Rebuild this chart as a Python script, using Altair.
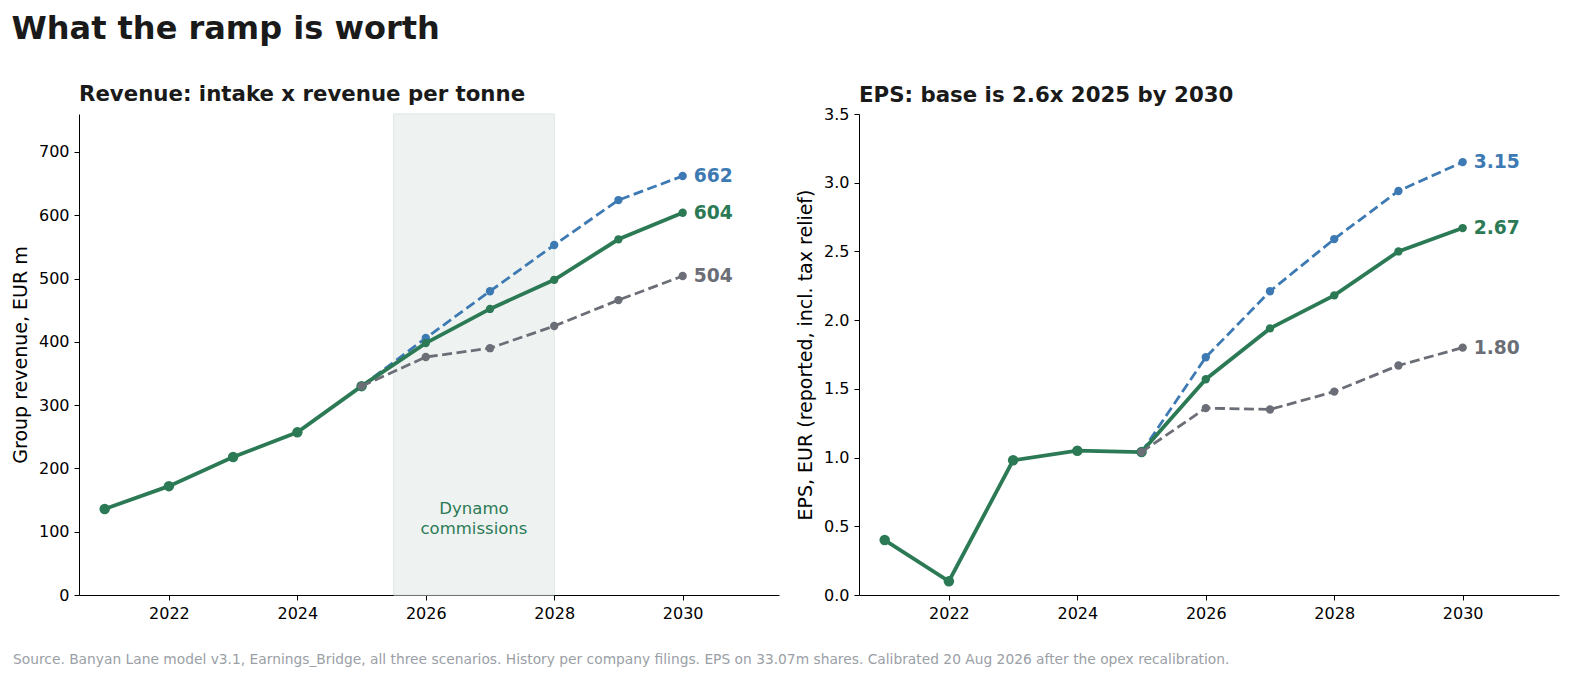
import altair as alt
import pandas as pd

FONT = "DejaVu Sans"

YEARS_HIST = [2021, 2022, 2023, 2024, 2025]
YEARS_PROJ = [2025, 2026, 2027, 2028, 2029, 2030]

REV_HIST = [136, 172, 218, 257, 330]
REV_UP = [330, 406, 480, 553, 624, 662]
REV_BASE = [330, 398, 452, 498, 562, 604]
REV_DOWN = [330, 376, 390, 425, 466, 504]

EPS_HIST = [0.40, 0.10, 0.98, 1.05, 1.04]
EPS_UP = [1.04, 1.73, 2.21, 2.59, 2.94, 3.15]
EPS_BASE = [1.04, 1.57, 1.94, 2.18, 2.50, 2.67]
EPS_DOWN = [1.04, 1.36, 1.35, 1.48, 1.67, 1.80]

SCENARIOS = ["Upside", "Base", "Downside"]
COLORS = {"Base": "#2b7a55", "Upside": "#3d7ab3", "Downside": "#6b6e76"}

BAND_START = [2025.5]
BAND_END = [2028.0]
BAND_TEXT = ["Dynamo\ncommissions"]
BAND_TEXT_X = [2026.75]
BAND_TEXT_Y = [136]

X_TICKS = [2022, 2024, 2026, 2028, 2030]
X_DOMAIN = [2020.6, 2031.5]

TITLE = "What the ramp is worth"
FOOTER = ("Source. Banyan Lane model v3.1, Earnings_Bridge, all three scenarios. "
          "History per company filings. EPS on 33.07m shares. "
          "Calibrated 20 Aug 2026 after the opex recalibration.")

W, H = 700, 481


def x_enc(field):
    return alt.X(
        f"{field}:Q",
        scale=alt.Scale(domain=X_DOMAIN, nice=False, zero=False),
        axis=alt.Axis(values=X_TICKS, format="d", title=None, grid=False),
    )


def panel(hist, proj, title, ytitle, ydomain, yticks, yfmt, lfmt, title_offset, band=False):
    y = alt.Y(
        "value:Q",
        scale=alt.Scale(domain=ydomain, nice=False, zero=True),
        axis=alt.Axis(values=yticks, format=yfmt, title=ytitle, grid=False, titlePadding=8),
    )
    layers = []
    if band:
        band_df = pd.DataFrame({"start": BAND_START, "end": BAND_END})
        layers.append(
            alt.Chart(band_df)
            .mark_rect(fill="#eef3f1", stroke="#dde7e2", strokeWidth=1)
            .encode(x=x_enc("start"), x2="end:Q")
        )
        txt_df = pd.DataFrame({"year": BAND_TEXT_X, "value": BAND_TEXT_Y, "t": BAND_TEXT})
        layers.append(
            alt.Chart(txt_df)
            .mark_text(font=FONT, fontSize=16.5, color=COLORS["Base"], lineBreak="\n",
                       lineHeight=20, align="center", baseline="middle")
            .encode(x=x_enc("year"), y=y, text="t:N")
        )

    hist_df = pd.DataFrame({"year": YEARS_HIST, "value": hist})
    layers.append(
        alt.Chart(hist_df).mark_line(color=COLORS["Base"], strokeWidth=3.8)
        .encode(x=x_enc("year"), y=y)
    )
    layers.append(
        alt.Chart(hist_df).mark_circle(color=COLORS["Base"], size=110, opacity=1)
        .encode(x=x_enc("year"), y=y)
    )

    for scen in SCENARIOS:
        vals = proj[scen]
        df = pd.DataFrame({"year": YEARS_PROJ, "value": vals})
        if scen == "Base":
            line = alt.Chart(df).mark_line(color=COLORS[scen], strokeWidth=3.8)
        else:
            line = alt.Chart(df).mark_line(color=COLORS[scen], strokeWidth=2.8, strokeDash=[10, 4.5])
        layers.append(line.encode(x=x_enc("year"), y=y))
        layers.append(
            alt.Chart(df).mark_circle(color=COLORS[scen], size=70, opacity=1)
            .encode(x=x_enc("year"), y=y)
        )
        lab = pd.DataFrame({"year": [YEARS_PROJ[-1]], "value": [vals[-1]],
                            "t": [format(vals[-1], lfmt)]})
        layers.append(
            alt.Chart(lab)
            .mark_text(font=FONT, fontSize=18.7, fontWeight="bold", color=COLORS[scen],
                       align="left", baseline="middle", dx=11)
            .encode(x=x_enc("year"), y=y, text="t:N")
        )

    return alt.layer(*layers).properties(
        width=W,
        height=H,
        title=alt.TitleParams(title, anchor="start", frame="group", font=FONT,
                              fontSize=21.3, fontWeight="bold", color="#1a1a1a",
                              offset=title_offset),
    )


left = panel(
    REV_HIST,
    {"Upside": REV_UP, "Base": REV_BASE, "Downside": REV_DOWN},
    "Revenue: intake x revenue per tonne",
    "Group revenue, EUR m",
    [0, 760],
    [0, 100, 200, 300, 400, 500, 600, 700],
    "d",
    "d",
    8,
    band=True,
)

right = panel(
    EPS_HIST,
    {"Upside": EPS_UP, "Base": EPS_BASE, "Downside": EPS_DOWN},
    "EPS: base is 2.6x 2025 by 2030",
    "EPS, EUR (reported, incl. tax relief)",
    [0, 3.5],
    [0, 0.5, 1.0, 1.5, 2.0, 2.5, 3.0, 3.5],
    ".1f",
    ".2f",
    0,
)

footer = (
    alt.Chart(pd.DataFrame({"t": [FOOTER]}))
    .mark_text(font=FONT, fontSize=13.8, color="#9aa0a6", align="left", baseline="middle")
    .encode(text="t:N", x=alt.value(-66), y=alt.value(0))
    .properties(width=1200, height=1)
)

row = alt.hconcat(left, right, spacing=17)

chart = (
    alt.vconcat(row, footer, spacing=32)
    .properties(
        title=alt.TitleParams(TITLE, anchor="start", font=FONT, fontSize=32,
                              fontWeight="bold", color="#1a1a1a", offset=38),
        padding={"left": 3, "top": 5, "right": 5, "bottom": 5},
    )
    .configure_view(stroke=None)
    .configure_axis(
        labelFont=FONT,
        titleFont=FONT,
        labelFontSize=16,
        titleFontSize=19,
        titleFontWeight="normal",
        labelColor="#000000",
        titleColor="#000000",
        domainColor="#000000",
        tickColor="#000000",
        tickSize=5,
        labelPadding=5,
    )
)

chart.save("out.html", embed_options={"renderer": "svg", "actions": False})
